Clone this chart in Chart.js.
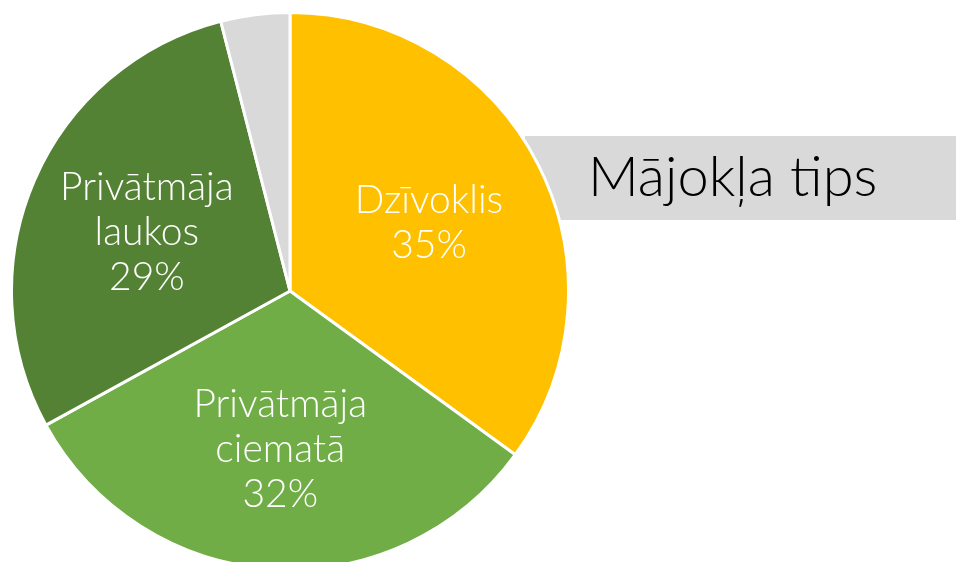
<!DOCTYPE html>
<html>
<head>
<meta charset="utf-8">
<script src="https://cdn.jsdelivr.net/npm/chart.js@4.4.1/dist/chart.umd.min.js"></script>
<style>
  html, body { margin: 0; padding: 0; background: #fff; overflow: hidden; width: 956px; height: 562px; }
  .title-box {
    position: absolute; left: 525px; top: 136px; width: 431px; height: 84px;
    background: #d9d9d9; z-index: 0;
  }
  .title-box span {
    position: absolute; left: 63px; top: 5px;
    font-family: Lato, "Noto Sans", sans-serif; font-size: 56px; font-weight: 300; color: #000;
    line-height: 68px; white-space: nowrap;
  }
  .pie-wrap {
    position: absolute; left: 10px; top: 11px; width: 560px; height: 560px; z-index: 1;
  }
</style>
</head>
<body>
<div class="title-box"><span>Mājokļa tips</span></div>
<div class="pie-wrap"><canvas id="pie_chart"></canvas></div>
<script>
// data
const categories  = ['Dzīvoklis', 'Privātmāja ciematā', 'Privātmāja laukos', 'Cits'];
const labelLines  = [['Dzīvoklis'], ['Privātmāja', 'ciematā'], ['Privātmāja', 'laukos'], []];
const shares      = [35, 32, 29, 4];
const sliceColors = ['#ffc000', '#70ad47', '#548235', '#d9d9d9'];

const pie_chart = document.getElementById('pie_chart');

// draws the white in-slice labels (name + percent)
const sliceLabels = {
    id: 'sliceLabels',
    afterDatasetsDraw(chart){
        const ctx  = chart.ctx;
        const meta = chart.getDatasetMeta(0);
        ctx.save();
        ctx.fillStyle    = '#ffffff';
        ctx.font         = '300 39px Lato, "Noto Sans", sans-serif';
        ctx.textAlign    = 'center';
        ctx.textBaseline = 'middle';
        meta.data.forEach((arc, i) => {
            if(!labelLines[i].length) return;
            const p   = arc.getProps(['x', 'y', 'startAngle', 'endAngle', 'outerRadius'], true);
            const mid = (p.startAngle + p.endAngle) / 2;
            const r   = p.outerRadius * 0.56;
            const cx  = p.x + Math.cos(mid) * r;
            const cy  = p.y + Math.sin(mid) * r + 3;
            const lines = labelLines[i].concat([shares[i] + '%']);
            const lh = 45;
            const top = cy - (lines.length - 1) * lh / 2;
            lines.forEach((t, k) => ctx.fillText(t, cx, top + k * lh));
        });
        ctx.restore();
    }
};

var pie_chart_ref = new Chart(pie_chart, {
    type: 'pie',
    data: {
        labels: categories,
        datasets: [{
            data: shares,
            backgroundColor: sliceColors,
            borderColor: '#ffffff',
            borderWidth: 3
        }]
    },
    options: {
        responsive: true,
        maintainAspectRatio: false,
        animation: false,
        layout: { padding: 0 },
        plugins: {
            legend: { display: false },
            tooltip: { enabled: false }
        }
    },
    plugins: [sliceLabels]
});
</script>
</body>
</html>
